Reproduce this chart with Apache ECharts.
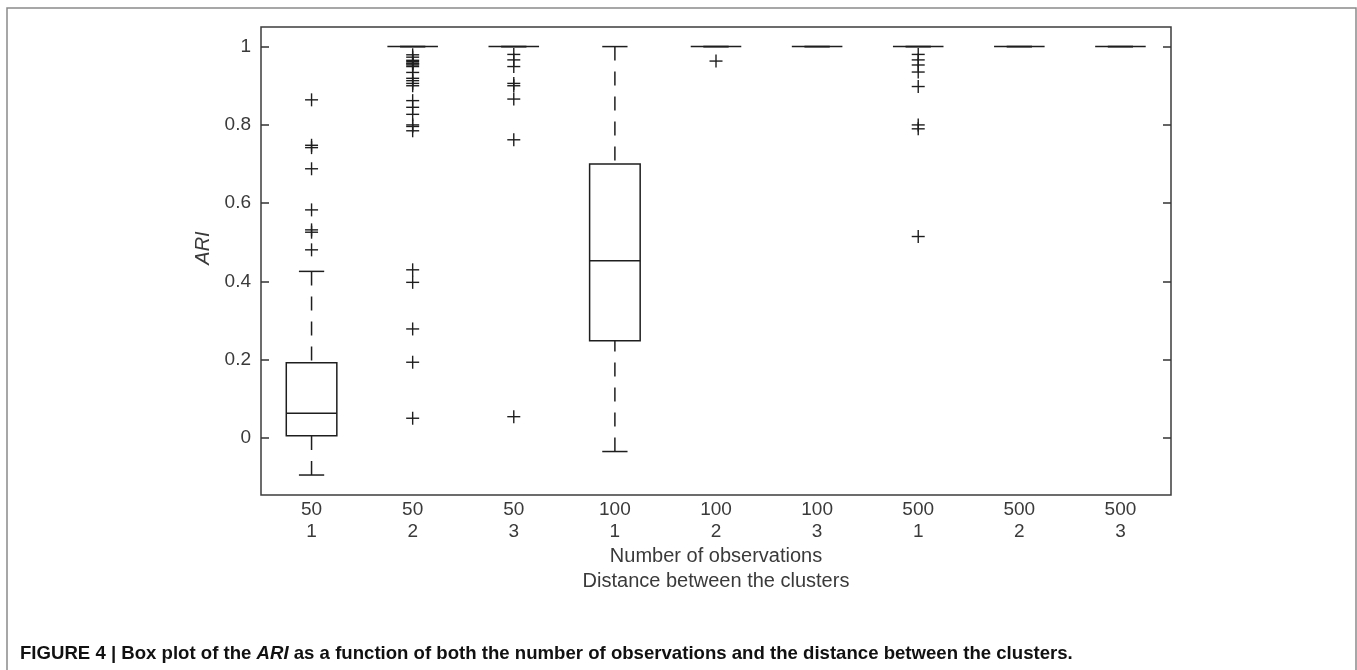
<!DOCTYPE html>
<html><head><meta charset="utf-8">
<script src="https://cdn.jsdelivr.net/npm/echarts@6/dist/echarts.min.js"></script>
<style>html,body{margin:0;padding:0;background:#fff}#c{width:1357px;height:670px}</style>
</head><body><div id="c"></div>
<script>
// Category labels (two lines)
const observations = ['50', '50', '50', '100', '100', '100', '500', '500', '500'];
const distances = ['1', '2', '3', '1', '2', '3', '1', '2', '3'];

// Box statistics per group: [lower whisker, Q1, median, Q3, upper whisker]
const boxG1 = [-0.094, 0.006, 0.064, 0.193, 0.426];
const boxG2 = [1, 1, 1, 1, 1];
const boxG3 = [1, 1, 1, 1, 1];
const boxG4 = [-0.034, 0.249, 0.453, 0.700, 1.0];
const boxG5 = [1, 1, 1, 1, 1];
const boxG6 = [1, 1, 1, 1, 1];
const boxG7 = [1, 1, 1, 1, 1];
const boxG8 = [1, 1, 1, 1, 1];
const boxG9 = [1, 1, 1, 1, 1];

// Outliers per group
const outG1 = [0.864, 0.748, 0.742, 0.688, 0.583, 0.532, 0.526, 0.481];
const outG2 = [0.979, 0.973, 0.965, 0.962, 0.958, 0.956, 0.953, 0.949, 0.934, 0.919, 0.913, 0.906, 0.900,
               0.862, 0.845, 0.827, 0.800, 0.796, 0.785, 0.430, 0.398, 0.279, 0.194, 0.051];
const outG3 = [0.980, 0.966, 0.949, 0.906, 0.900, 0.866, 0.762, 0.055];
const outG4 = [];
const outG5 = [0.963];
const outG6 = [];
const outG7 = [0.980, 0.966, 0.953, 0.935, 0.898, 0.800, 0.790, 0.515];
const outG8 = [];
const outG9 = [];

const yTicks = [0, 0.2, 0.4, 0.6, 0.8, 1];
const yMin = -0.145, yMax = 1.05;

const boxes = [boxG1, boxG2, boxG3, boxG4, boxG5, boxG6, boxG7, boxG8, boxG9];
const outs = [outG1, outG2, outG3, outG4, outG5, outG6, outG7, outG8, outG9];
const categories = observations.map((o, i) => o + '\n' + distances[i]);
const boxData = boxes.map((b, i) => [i].concat(b));
const outData = [];
outs.forEach((arr, i) => arr.forEach(v => outData.push([i, v])));

const INK = '#1e1e1e';
const TXT = '#3a3a3a';
const FONT = 'Liberation Sans, Arial, Helvetica, sans-serif';

const chart = echarts.init(document.getElementById('c'), null, { renderer: 'canvas' });

const yAxisBase = {
  type: 'value', min: yMin, max: yMax,
  axisLine: { show: false },
  splitLine: { show: false },
  axisTick: { show: true, inside: true, length: 8, customValues: yTicks, lineStyle: { color: '#333', width: 1.5 } }
};

chart.setOption({
  animation: false,
  backgroundColor: '#fff',
  grid: { left: 261, top: 27, right: 186, bottom: 175, show: true, borderColor: '#3c3c3c', borderWidth: 1.5, backgroundColor: 'transparent' },
  xAxis: {
    type: 'category', data: categories, boundaryGap: true,
    axisLine: { show: false }, axisTick: { show: false }, splitLine: { show: false },
    axisLabel: { fontSize: 19, lineHeight: 22, color: TXT, fontFamily: FONT, margin: 4, interval: 0 }
  },
  yAxis: [
    Object.assign({}, yAxisBase, {
      position: 'left',
      axisLabel: { customValues: yTicks, formatter: v => String(v), fontSize: 19, color: TXT, fontFamily: FONT, margin: 10 }
    }),
    Object.assign({}, yAxisBase, { position: 'right', axisLabel: { show: false } })
  ],
  graphic: [
    { type: 'rect', shape: { x: 7, y: 8, width: 1349, height: 720 }, style: { fill: 'none', stroke: '#8a8a8a', lineWidth: 1.5 }, silent: true },
    { type: 'text', x: 716, y: 556, style: { text: 'Number of observations', fontSize: 20, fill: TXT, fontFamily: FONT, align: 'center', verticalAlign: 'middle' } },
    { type: 'text', x: 716, y: 581, style: { text: 'Distance between the clusters', fontSize: 20, fill: TXT, fontFamily: FONT, align: 'center', verticalAlign: 'middle' } },
    { type: 'text', x: 203, y: 248, rotation: Math.PI / 2, style: { text: 'ARI', fontSize: 20, fontStyle: 'italic', fill: TXT, fontFamily: FONT, align: 'center', verticalAlign: 'middle' } },
    { type: 'text', x: 20, y: 654, style: {
        text: '{b|FIGURE 4 | Box plot of the }{bi|ARI}{b| as a function of both the number of observations and the distance between the clusters.}',
        verticalAlign: 'middle', align: 'left',
        rich: {
          b: { fontSize: 18.6, fontWeight: 'bold', fill: '#111', fontFamily: FONT },
          bi: { fontSize: 18.6, fontWeight: 'bold', fontStyle: 'italic', fill: '#111', fontFamily: FONT }
        }
      } }
  ],
  series: [
    {
      type: 'custom', name: 'box', yAxisIndex: 0, data: boxData,
      encode: { x: 0, y: [1, 2, 3, 4, 5] },
      renderItem: function (params, api) {
        const i = api.value(0);
        const lo = api.coord([i, api.value(1)]);
        const q1 = api.coord([i, api.value(2)]);
        const md = api.coord([i, api.value(3)]);
        const q3 = api.coord([i, api.value(4)]);
        const hi = api.coord([i, api.value(5)]);
        const bw = api.size([1, 0])[0] * 0.5;
        const cw = bw / 2;
        const x = md[0];
        const solid = { stroke: INK, lineWidth: 1.5, fill: 'none' };
        const dash = { stroke: INK, lineWidth: 1.5, lineDash: [14, 11], fill: 'none' };
        const ch = [];
        if (q3[1] - hi[1] > 0.5) ch.push({ type: 'line', shape: { x1: x, y1: hi[1], x2: x, y2: q3[1] }, style: dash });
        if (lo[1] - q1[1] > 0.5) ch.push({ type: 'line', shape: { x1: x, y1: lo[1], x2: x, y2: q1[1] }, style: dash });
        ch.push({ type: 'line', shape: { x1: x - cw / 2, y1: hi[1], x2: x + cw / 2, y2: hi[1] }, style: solid });
        ch.push({ type: 'line', shape: { x1: x - cw / 2, y1: lo[1], x2: x + cw / 2, y2: lo[1] }, style: solid });
        if (q1[1] - q3[1] > 0.5) ch.push({ type: 'rect', shape: { x: x - bw / 2, y: q3[1], width: bw, height: q1[1] - q3[1] }, style: solid });
        ch.push({ type: 'line', shape: { x1: x - bw / 2, y1: md[1], x2: x + bw / 2, y2: md[1] }, style: solid });
        return { type: 'group', children: ch };
      }
    },
    {
      type: 'custom', name: 'outliers', yAxisIndex: 0, data: outData,
      encode: { x: 0, y: 1 },
      renderItem: function (params, api) {
        const p = api.coord([api.value(0), api.value(1)]);
        const h = 6.5;
        const st = { stroke: INK, lineWidth: 1.4 };
        return { type: 'group', children: [
          { type: 'line', shape: { x1: p[0] - h, y1: p[1], x2: p[0] + h, y2: p[1] }, style: st },
          { type: 'line', shape: { x1: p[0], y1: p[1] - h, x2: p[0], y2: p[1] + h }, style: st }
        ] };
      }
    }
  ]
});
</script>
</body></html>
